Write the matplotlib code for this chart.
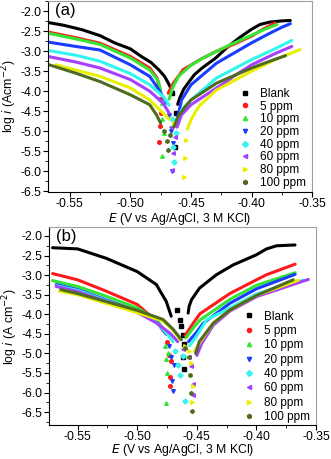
import matplotlib.pyplot as plt
from matplotlib.ticker import MultipleLocator

plt.rcParams['font.family'] = ['Liberation Sans', 'DejaVu Sans']

labels = ['Blank', '5 ppm', '10 ppm', '20 ppm', '40 ppm', '60 ppm', '80 ppm', '100 ppm']
colors = ['#000000', '#ff1a1a', '#33e633', '#1a3cff', '#33f5f0', '#a640ff', '#e8f000', '#4f6b1f']
markers = ['s', 'o', '^', 'v', 'D', '<', '>', 'h']

# Panel (a): each series = cathodic branch, scattered points near Ecorr, anodic branch
a_blank = dict(
    cath=[(-0.568, -2.28), (-0.555, -2.35), (-0.540, -2.46), (-0.525, -2.61), (-0.513, -2.79), (-0.500, -2.94),
          (-0.491, -3.13), (-0.483, -3.28), (-0.477, -3.45), (-0.472, -3.62), (-0.469, -3.78), (-0.467, -3.90)],
    tip=[(-0.4655, -4.05), (-0.4635, -5.40), (-0.4625, -4.55)],
    anod=[(-0.461, -4.33), (-0.459, -4.15), (-0.456, -3.95), (-0.452, -3.78), (-0.447, -3.58), (-0.440, -3.40),
          (-0.430, -3.18), (-0.420, -2.90), (-0.410, -2.66), (-0.400, -2.45), (-0.393, -2.33), (-0.385, -2.27),
          (-0.375, -2.24), (-0.368, -2.23)])
a_5 = dict(
    cath=[(-0.568, -2.52), (-0.545, -2.66), (-0.525, -2.80), (-0.500, -3.13), (-0.484, -3.42), (-0.478, -3.67),
          (-0.476, -3.92)],
    tip=[(-0.4755, -4.20), (-0.4752, -4.88), (-0.4762, -5.28), (-0.4745, -4.55)],
    anod=[(-0.4688, -4.05), (-0.4646, -3.80), (-0.4564, -3.46), (-0.4426, -3.21), (-0.429, -3.00), (-0.415, -2.83),
          (-0.400, -2.62), (-0.390, -2.44), (-0.3806, -2.29)])
a_10 = dict(
    cath=[(-0.568, -2.55), (-0.545, -2.69), (-0.525, -2.83), (-0.500, -3.17), (-0.484, -3.47), (-0.477, -3.74),
          (-0.475, -3.98)],
    tip=[(-0.4740, -4.30), (-0.4735, -4.70), (-0.4738, -5.61), (-0.4725, -5.05)],
    anod=[(-0.468, -4.20), (-0.465, -3.90), (-0.460, -3.62), (-0.450, -3.35), (-0.440, -3.17), (-0.420, -2.87),
          (-0.400, -2.60), (-0.390, -2.46), (-0.379, -2.33)])
a_20 = dict(
    cath=[(-0.568, -2.77), (-0.545, -2.88), (-0.525, -2.97), (-0.500, -3.34), (-0.484, -3.63), (-0.4757, -4.00),
          (-0.4702, -4.30)],
    tip=[(-0.4680, -4.60), (-0.4665, -5.00), (-0.4655, -5.99), (-0.4650, -5.30)],
    anod=[(-0.462, -4.80), (-0.4578, -4.22), (-0.450, -3.84), (-0.429, -3.30), (-0.400, -2.79), (-0.385, -2.55),
          (-0.375, -2.40), (-0.368, -2.31)])
a_40 = dict(
    cath=[(-0.568, -2.98), (-0.545, -3.10), (-0.525, -3.25), (-0.500, -3.56), (-0.484, -3.84), (-0.473, -4.13),
          (-0.468, -4.35)],
    tip=[(-0.4660, -4.70), (-0.4648, -5.40), (-0.4641, -5.78), (-0.4625, -5.05)],
    anod=[(-0.4605, -4.75), (-0.4578, -4.47), (-0.450, -4.22), (-0.429, -3.67), (-0.400, -3.21), (-0.380, -2.93),
          (-0.3668, -2.73)])
a_60 = dict(
    cath=[(-0.568, -3.13), (-0.545, -3.27), (-0.525, -3.42), (-0.500, -3.71), (-0.484, -4.00), (-0.473, -4.30),
          (-0.468, -4.55)],
    tip=[(-0.4665, -4.90), (-0.4653, -5.97), (-0.4645, -5.55), (-0.4630, -5.15)],
    anod=[(-0.4615, -4.90), (-0.458, -4.60), (-0.450, -4.34), (-0.429, -3.92), (-0.420, -3.75), (-0.415, -3.63),
          (-0.400, -3.34), (-0.380, -3.05), (-0.3668, -2.88)])
a_80 = dict(
    cath=[(-0.5613, -3.34), (-0.545, -3.47), (-0.525, -3.63), (-0.500, -3.92), (-0.484, -4.22), (-0.4757, -4.47),
          (-0.468, -4.70)],
    tip=[(-0.4640, -4.80), (-0.4556, -6.14), (-0.4550, -5.68), (-0.4545, -5.22)],
    anod=[(-0.4530, -4.95), (-0.4500, -4.72), (-0.4460, -4.50), (-0.4427, -4.36), (-0.429, -3.97), (-0.400, -3.50),
          (-0.380, -3.20), (-0.360, -2.96)])
a_100 = dict(
    cath=[(-0.568, -3.33), (-0.545, -3.55), (-0.525, -3.76), (-0.500, -4.09), (-0.484, -4.34), (-0.4785, -4.59),
          (-0.475, -4.80)],
    tip=[(-0.4720, -5.00), (-0.4700, -5.25), (-0.4688, -5.47), (-0.4675, -5.10)],
    anod=[(-0.4640, -4.90), (-0.461, -4.65), (-0.455, -4.40), (-0.450, -4.22), (-0.429, -3.80), (-0.400, -3.42),
          (-0.385, -3.25), (-0.3719, -3.11)])
panel_a = [a_blank, a_5, a_10, a_20, a_40, a_60, a_80, a_100]

# Panel (b)
b_blank = dict(
    cath=[(-0.571, -2.30), (-0.550, -2.33), (-0.526, -2.57), (-0.500, -2.91), (-0.484, -3.24), (-0.4757, -3.67),
          (-0.4715, -4.05)],
    tip=[(-0.4670, -3.88), (-0.4643, -4.14), (-0.4629, -4.31), (-0.4615, -4.52), (-0.4607, -4.77), (-0.4620, -5.10),
         (-0.4610, -5.40)],
    anod=[(-0.4573, -3.97), (-0.4565, -3.80), (-0.4545, -3.63), (-0.4477, -3.33), (-0.4336, -2.99), (-0.4196, -2.74),
          (-0.400, -2.48), (-0.3916, -2.33), (-0.3831, -2.25), (-0.3677, -2.23)])
b_5 = dict(
    cath=[(-0.571, -2.96), (-0.550, -3.12), (-0.526, -3.41), (-0.500, -3.75), (-0.484, -4.17), (-0.478, -4.43)],
    tip=[(-0.4750, -4.70), (-0.4735, -5.05), (-0.4729, -5.82), (-0.4725, -5.60), (-0.4715, -5.20)],
    anod=[(-0.4600, -4.55), (-0.4531, -4.23), (-0.4475, -3.99), (-0.4223, -3.47), (-0.400, -3.12), (-0.3916, -2.99),
          (-0.3676, -2.72)])
b_10 = dict(
    cath=[(-0.571, -3.14), (-0.550, -3.29), (-0.526, -3.54), (-0.500, -3.84), (-0.484, -4.13), (-0.477, -4.43)],
    tip=[(-0.4765, -4.80), (-0.4757, -5.15), (-0.4752, -5.50), (-0.4757, -6.27), (-0.4740, -5.00)],
    anod=[(-0.4590, -4.60), (-0.4530, -4.35), (-0.4475, -4.15), (-0.4223, -3.62), (-0.400, -3.26), (-0.3676, -2.94)])
b_20 = dict(
    cath=[(-0.5680, -3.24), (-0.550, -3.37), (-0.500, -3.92), (-0.484, -4.17), (-0.4757, -4.51)],
    tip=[(-0.4735, -4.80), (-0.4720, -5.10), (-0.4707, -5.70), (-0.4700, -5.95), (-0.4690, -5.30)],
    anod=[(-0.4570, -4.70), (-0.4500, -4.45), (-0.4447, -4.23), (-0.4223, -3.72), (-0.400, -3.35), (-0.3676, -2.98)])
b_40 = dict(
    cath=[(-0.5680, -3.27), (-0.550, -3.39), (-0.500, -3.94), (-0.484, -4.20), (-0.475, -4.50), (-0.470, -4.70)],
    tip=[(-0.4680, -4.95), (-0.4660, -5.30), (-0.4640, -5.55), (-0.4603, -6.22), (-0.4615, -5.07)],
    anod=[(-0.4560, -4.80), (-0.4503, -4.56), (-0.4419, -4.14), (-0.4223, -3.84), (-0.400, -3.48), (-0.3607, -3.13)])
b_60 = dict(
    cath=[(-0.5680, -3.29), (-0.550, -3.42), (-0.500, -3.95), (-0.484, -4.22), (-0.472, -4.50), (-0.466, -4.70)],
    tip=[(-0.4620, -4.90), (-0.4570, -5.10), (-0.4545, -5.32), (-0.4533, -5.78), (-0.4533, -6.05)],
    anod=[(-0.4500, -5.05), (-0.4460, -4.75), (-0.4363, -4.28), (-0.4223, -3.92), (-0.400, -3.55), (-0.3565, -3.11)])
b_80 = dict(
    cath=[(-0.5654, -3.41), (-0.550, -3.50), (-0.500, -3.96), (-0.4785, -4.17), (-0.470, -4.40), (-0.464, -4.65)],
    tip=[(-0.4600, -4.80), (-0.4570, -4.95), (-0.4545, -5.25), (-0.4533, -5.82), (-0.4538, -6.25)],
    anod=[(-0.4520, -4.95), (-0.4470, -4.70), (-0.4363, -4.23), (-0.4223, -3.89), (-0.400, -3.52), (-0.3650, -3.13)])
b_100 = dict(
    cath=[(-0.5640, -3.37), (-0.550, -3.47), (-0.500, -3.90), (-0.4785, -4.13), (-0.470, -4.38), (-0.463, -4.65)],
    tip=[(-0.4600, -4.85), (-0.4570, -5.10), (-0.4555, -5.55), (-0.4545, -6.00), (-0.4538, -6.48)],
    anod=[(-0.4510, -5.00), (-0.4480, -4.70), (-0.4363, -4.23), (-0.4223, -3.89), (-0.400, -3.52), (-0.3692, -3.12)])
panel_b = [b_blank, b_5, b_10, b_20, b_40, b_60, b_80, b_100]


def drawPanel(ax, series, tag, ylabel, xlim, ylim, xlab_y, spacing, leg_y):
    for s, lab, c, m in zip(series, labels, colors, markers):
        for branch in ('cath', 'anod'):
            ex = [p[0] for p in s[branch]]
            ey = [p[1] for p in s[branch]]
            ax.plot(ex, ey, color=c, lw=2.2, solid_capstyle='round')
        ax.plot([p[0] for p in s['tip']], [p[1] for p in s['tip']], ls='none',
                marker=m, ms=2.6, color=c, mec=c)
        ax.plot([], [], ls='none', marker=m, ms=3, color=c, label=lab)
    ax.set_xlim(*xlim)
    ax.set_ylim(*ylim)
    ax.xaxis.set_major_locator(MultipleLocator(0.05))
    ax.xaxis.set_minor_locator(MultipleLocator(0.025))
    ax.yaxis.set_major_locator(MultipleLocator(0.5))
    ax.yaxis.set_minor_locator(MultipleLocator(0.25))
    ax.xaxis.set_major_formatter(plt.FuncFormatter(lambda v, p: '%.2f' % v))
    ax.yaxis.set_major_formatter(plt.FuncFormatter(lambda v, p: '%.1f' % v))
    ax.tick_params(which='major', length=3.5, width=0.8, labelsize=8.8, direction='out', pad=1.5)
    ax.tick_params(which='minor', length=2, width=0.6, direction='out')
    ax.tick_params(axis='x', which='major', pad=1)
    for side in ('top', 'right'):
        ax.spines[side].set_color('#a0a0a0')
    ax.set_xlabel('$E$ (V vs Ag/AgCl, 3 M KCl)', fontsize=8.8)
    ax.set_ylabel(ylabel, fontsize=8.8)
    ax.xaxis.set_label_coords(0.5, xlab_y)
    ax.yaxis.set_label_coords(-0.108, 0.5)
    ax.text(0.025, 0.99, tag, transform=ax.transAxes, fontsize=12, va='top', ha='left')
    ax.legend(loc='lower right', frameon=False, fontsize=8.5, handlelength=0.8,
              handletextpad=0.9, labelspacing=spacing, borderaxespad=0.1,
              bbox_to_anchor=(1.0, leg_y))


fig = plt.figure(figsize=(3.31, 4.59), dpi=100)
ax1 = fig.add_axes([0.145, 0.582, 0.798, 0.416])
ax2 = fig.add_axes([0.148, 0.074, 0.807, 0.4315])

drawPanel(ax1, panel_a, '(a)', 'log $i$ (Acm$^{-2}$)', (-0.568, -0.35), (-6.52, -1.74), -0.1, 0.06, -0.015)
drawPanel(ax2, panel_b, '(b)', 'log $i$ (A cm$^{-2}$)', (-0.574, -0.35), (-6.83, -1.77), -0.088, 0.2, -0.02)

fig.savefig('out.png', dpi=100)
